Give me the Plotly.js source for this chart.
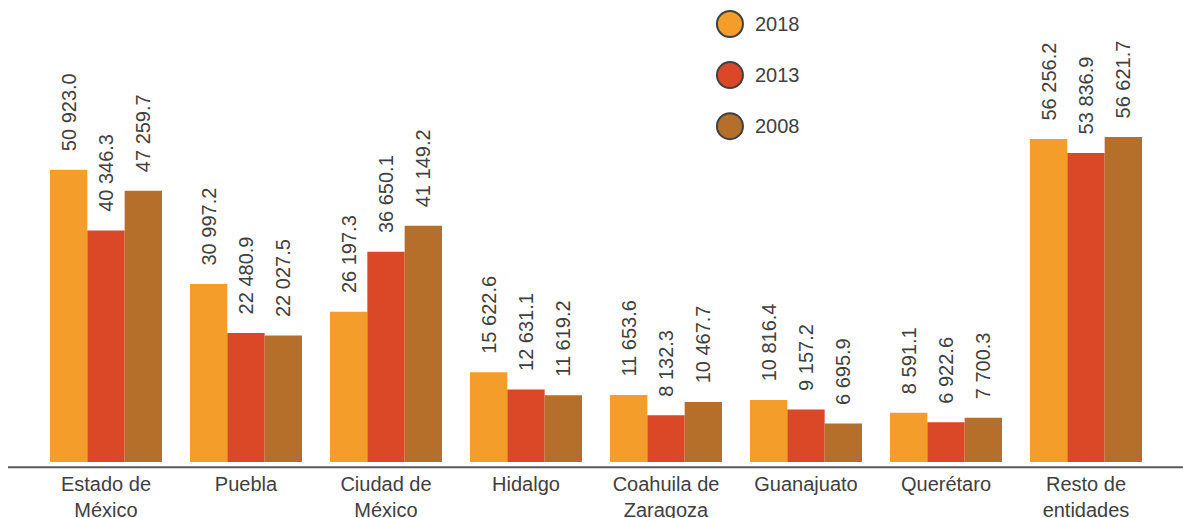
<!DOCTYPE html>
<html>
<head>
<meta charset="utf-8">
<script src="https://cdn.plot.ly/plotly-3.0.1.min.js"></script>
<style>html,body{margin:0;padding:0;background:#fff;}#chart{width:1183px;height:518px;}</style>
</head>
<body>
<div id="chart"></div>
<script>
const categories = ["Estado de<br>México", "Puebla", "Ciudad de<br>México", "Hidalgo", "Coahuila de<br>Zaragoza", "Guanajuato", "Querétaro", "Resto de<br>entidades"];
const seriesNames = ["2018", "2013", "2008"];
const values2018 = [50923.0, 30997.2, 26197.3, 15622.6, 11653.6, 10816.4, 8591.1, 56256.2];
const values2013 = [40346.3, 22480.9, 36650.1, 12631.1, 8132.3, 9157.2, 6922.6, 53836.9];
const values2008 = [47259.7, 22027.5, 41149.2, 11619.2, 10467.7, 6695.9, 7700.3, 56621.7];
const colors = ["#F59D2A", "#DA4828", "#B66E2B"];

const seriesValues = [values2018, values2013, values2008];
const textColor = "#404040";
const fontFamily = "Arial, 'Liberation Sans', sans-serif";

const traces = seriesValues.map((vals, i) => ({
  type: "bar",
  name: seriesNames[i],
  x: categories,
  y: vals,
  marker: {color: colors[i], line: {width: 0}},
  texttemplate: "\u2002\u00A0%{y:,.1f}",
  textposition: "outside",
  textangle: -90,
  constraintext: "none",
  cliponaxis: false,
  textfont: {family: fontFamily, size: 20, color: textColor},
  showlegend: false,
  hoverinfo: "skip"
}));

const legendX = 0.6196, legendTextX = 0.6402;
const legendY = [0.969, 0.856, 0.743];
const shapes = seriesNames.map((n, i) => ({
  type: "circle",
  xref: "paper", yref: "paper",
  xsizemode: "pixel", ysizemode: "pixel",
  xanchor: legendX, yanchor: legendY[i],
  x0: -13, x1: 13, y0: -13, y1: 13,
  fillcolor: colors[i],
  line: {color: textColor, width: 2}
}));
shapes.push({
  type: "line",
  xref: "paper", yref: "paper",
  x0: -0.025, x1: 1.03, y0: -0.0115, y1: -0.0115,
  line: {color: "#5a5a5a", width: 2}
});
const annotations = seriesNames.map((n, i) => ({
  xref: "paper", yref: "paper",
  x: legendTextX, y: legendY[i],
  xanchor: "left", yanchor: "middle",
  text: n, showarrow: false,
  font: {family: fontFamily, size: 20, color: textColor}
}));

const layout = {
  width: 1183, height: 518,
  margin: {l: 36, r: 27, t: 10, b: 56},
  paper_bgcolor: "#fff", plot_bgcolor: "#fff",
  separators: ". ",
  barmode: "group",
  bargap: 0.2,
  bargroupgap: 0,
  showlegend: false,
  font: {family: fontFamily, size: 20, color: textColor},
  xaxis: {
    type: "category",
    showline: false, showgrid: false, zeroline: false,
    ticks: "", ticklabelstandoff: 8,
    tickfont: {family: fontFamily, size: 20, color: textColor},
    fixedrange: true
  },
  yaxis: {
    range: [0, 78750],
    visible: false,
    showgrid: false, zeroline: false,
    fixedrange: true
  },
  shapes: shapes,
  annotations: annotations
};

Plotly.newPlot("chart", traces, layout, {displayModeBar: false, staticPlot: true});
</script>
</body>
</html>
